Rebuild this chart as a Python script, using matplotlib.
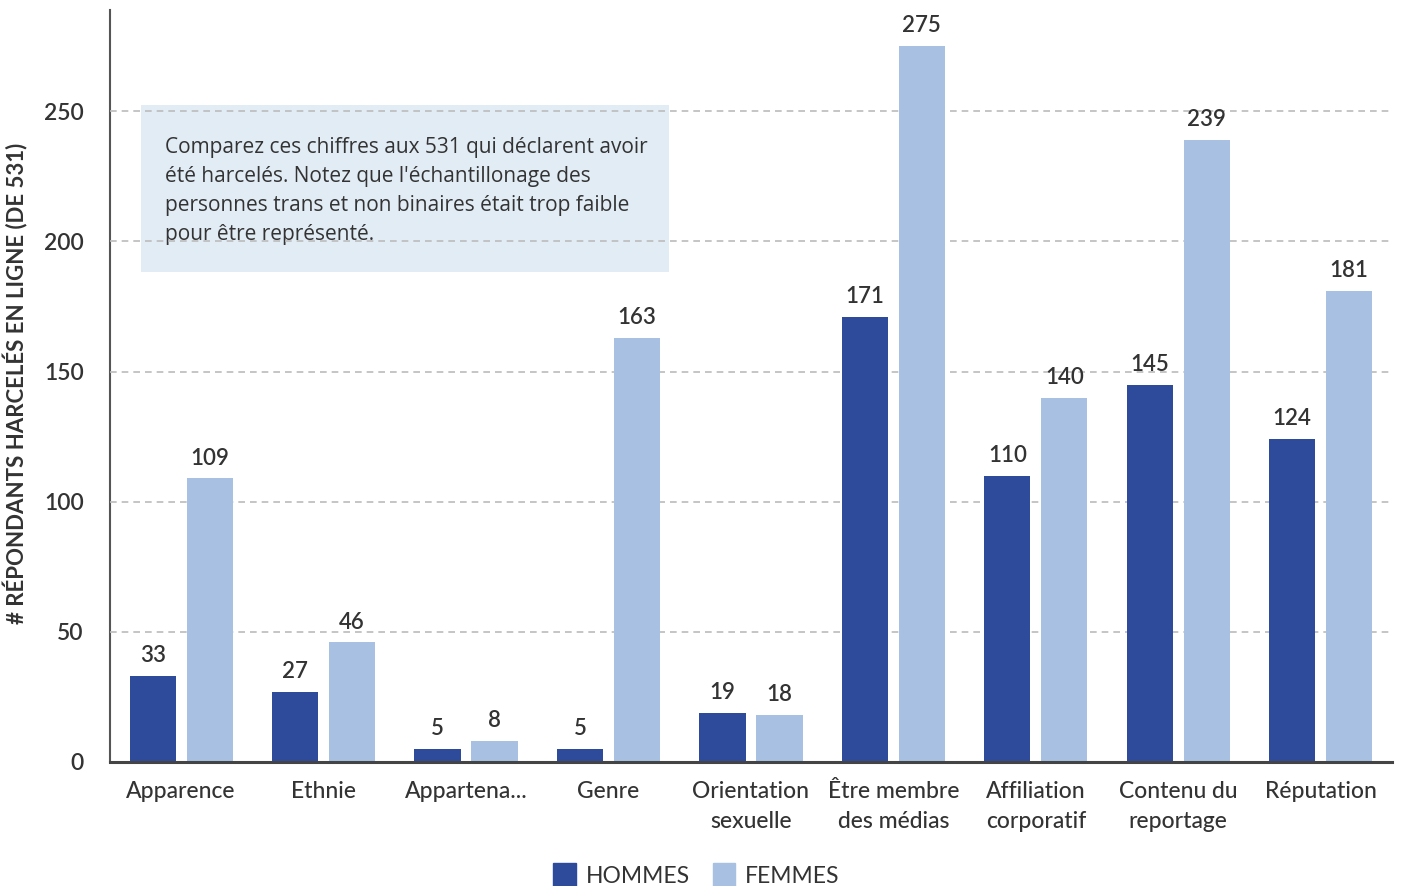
import matplotlib.pyplot as plt
import numpy as np
from matplotlib.patches import Rectangle, Patch

# Motifs de harcèlement et nombre de répondants par genre
categories = ["Apparence", "Ethnie", "Appartena...", "Genre", "Orientation\nsexuelle",
              "Être membre\ndes médias", "Affiliation\ncorporatif", "Contenu du\nreportage",
              "Réputation"]
hommes = [33, 27, 5, 5, 19, 171, 110, 145, 124]
femmes = [109, 46, 8, 163, 18, 275, 140, 239, 181]
yticks = [0, 50, 100, 150, 200, 250]

note = ("Comparez ces chiffres aux 531 qui déclarent avoir\n"
        "été harcelés. Notez que l'échantillonage des\n"
        "personnes trans et non binaires était trop faible\n"
        "pour être représenté.")

dark = "#2E4B9B"
light = "#A8C1E2"
txt = "#333333"

plt.rcParams['font.family'] = ['Lato', 'DejaVu Sans']

fig = plt.figure(figsize=(14.01, 8.86), dpi=100)
ax = fig.add_axes([0.0785, 0.14, 0.915, 0.849])

x = np.arange(len(categories))
w = 0.325
off = 0.2
b1 = ax.bar(x - off, hommes, w, color=dark, zorder=3, label="HOMMES")
b2 = ax.bar(x + off, femmes, w, color=light, zorder=3, label="FEMMES")

for bars, vals in ((b1, hommes), (b2, femmes)):
    for rect, v in zip(bars, vals):
        ax.annotate(str(v), (rect.get_x() + rect.get_width() / 2, v),
                    xytext=(0, 7), textcoords="offset points",
                    ha="center", va="bottom", fontsize=16, color=txt,
                    fontweight="semibold", zorder=4)

ax.set_xlim(-0.5, len(categories) - 0.5)
ax.set_ylim(0, 289)
ax.set_yticks(yticks)
ax.set_xticks(x)
ax.set_xticklabels(categories, fontsize=16.5, color=txt, linespacing=1.5)
ax.tick_params(axis='both', length=0)
ax.tick_params(axis='x', pad=14)
ax.tick_params(axis='y', pad=19, labelsize=16.5, labelcolor=txt)
for lbl in ax.get_yticklabels():
    lbl.set_fontweight("semibold")
for lbl in ax.get_xticklabels():
    lbl.set_fontweight("medium")

ax.yaxis.grid(True, linestyle=(0, (4, 3)), color="#BBBBBB", linewidth=1.2, zorder=2)
ax.set_axisbelow(False)
for s in ("top", "right"):
    ax.spines[s].set_visible(False)
ax.spines["left"].set_color("#555555")
ax.spines["left"].set_linewidth(1.5)
ax.spines["bottom"].set_color("#444444")
ax.spines["bottom"].set_linewidth(2.2)
ax.spines["bottom"].set_zorder(5)

ax.set_ylabel("# RÉPONDANTS HARCELÉS EN LIGNE (DE 531)", fontsize=16,
              fontweight="bold", color=txt)
ax.yaxis.set_label_coords(-0.064, 0.503)

# encadré de la note
ax.add_patch(Rectangle((0.024, 0.652), 0.412, 0.222, transform=ax.transAxes,
                       facecolor="#E2ECF5", edgecolor="none", zorder=1))
ax.text(0.043, 0.831, note, transform=ax.transAxes, fontsize=15,
        family=['Open Sans', 'DejaVu Sans'], color=txt, va="top", ha="left",
        linespacing=1.5, zorder=1.5)

handles = [Patch(color=dark, label="HOMMES"), Patch(color=light, label="FEMMES")]
fig.legend(handles=handles, loc="lower center", ncol=2, frameon=False,
           bbox_to_anchor=(0.497, -0.024), fontsize=16.5, handlelength=1.0,
           handleheight=1.2, handletextpad=0.4, columnspacing=1.0,
           labelcolor=txt)

fig.savefig("out.png", dpi=100)
